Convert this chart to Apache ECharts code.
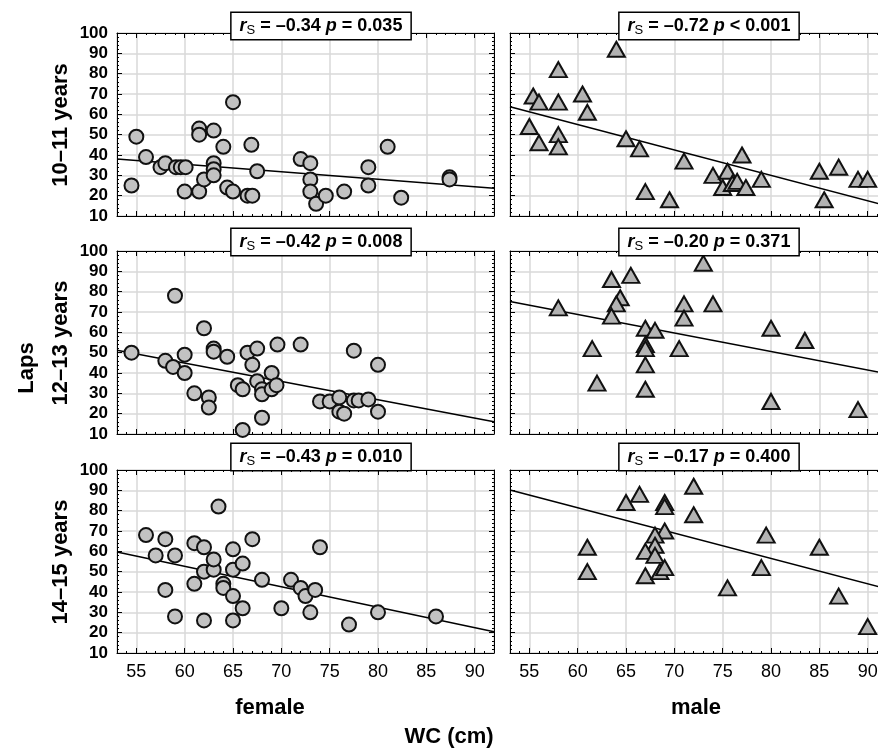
<!DOCTYPE html>
<html>
<head>
<meta charset="utf-8">
<script src="https://cdn.jsdelivr.net/npm/echarts@6/dist/echarts.min.js"></script>
<style>
html, body { margin: 0; padding: 0; background: #fff; }
#main { width: 878px; height: 751px; }
</style>
</head>
<body>
<div id="main"></div>
<script>
// laps vs waist circumference, by age group (rows) and sex (columns)
var rowLabels = ['10–11 years', '12–13 years', '14–15 years'];
var colLabels = ['female', 'male'];

// female points [WC, laps]
var female1011 = [[54.5, 25], [55, 49], [56, 39], [57.5, 34], [58, 36], [59.1, 34], [59.6, 34], [60.1, 34], [60, 22],
    [61.5, 53], [61.5, 50], [61.5, 22], [62, 28], [63, 52], [63, 36], [63, 33], [63, 30], [64, 44], [64.4, 24], [65, 66],
    [65, 22], [66.5, 20], [67, 20], [66.9, 45], [67.5, 32], [72, 38], [73, 36], [73, 28], [73, 22], [73.6, 16],
    [74.6, 20], [76.5, 22], [79, 34], [79, 25], [81, 44], [82.4, 19], [87.4, 29], [87.4, 28]];
var female1213 = [[54.5, 50], [59, 78], [58, 46], [58.8, 43], [60, 49], [60, 40], [61, 30], [62, 62], [62.5, 28],
    [62.5, 23], [63, 52], [63, 50.5], [64.4, 48], [65.5, 34], [66, 32], [66, 12], [66.5, 50], [67, 44], [67.5, 52],
    [67.5, 36], [68, 32], [68, 29.5], [68, 18], [69, 40], [69, 32], [69.5, 34], [69.6, 54], [72, 54], [74, 26],
    [75, 26], [76, 28], [76, 21], [76.5, 20], [77.5, 26.5], [78, 26.5], [79, 27], [77.5, 51], [80, 44], [80, 21]];
var female1415 = [[56, 68], [57, 58], [58, 66], [58, 41], [59, 58], [59, 28], [61, 64], [61, 44], [62, 62], [62, 50],
    [62, 26], [63, 51], [63, 56], [63.5, 82], [64, 44], [64, 42], [65, 61], [65, 51], [65, 38], [65, 26], [66, 54],
    [66, 32], [67, 66], [68, 46], [70, 32], [71, 46], [72, 42], [72.5, 38], [73, 30], [73.5, 41], [74, 62], [77, 24],
    [80, 30], [86, 28]];

// male points [WC, laps]
var male1011 = [[64, 92], [58, 82], [55.4, 69], [56, 66], [58, 66], [60.5, 70], [61, 61], [55, 54], [58, 50], [56, 46],
    [58, 44], [65, 48], [66.4, 43], [67, 22], [69.5, 18], [71, 37], [74, 30], [75, 24], [75.5, 32], [76, 26],
    [76.5, 27], [77, 40], [77.4, 24], [79, 28], [85, 32], [85.5, 18], [87, 34], [89, 28], [90, 28]];
var male1213 = [[58, 72], [73, 94], [63.5, 86], [65.5, 88], [64.4, 77], [64, 74], [63.5, 68], [61.5, 52], [62, 35],
    [67, 62], [68, 61], [67, 54], [67, 52], [67, 44], [67, 32], [70.5, 52], [71, 74], [71, 67], [74, 74], [80, 62],
    [80, 26], [83.5, 56], [89, 22]];
var male1415 = [[61, 62], [61, 50], [65, 84], [66.4, 88], [69, 84], [69, 82], [72, 92], [72, 78], [69, 70], [68, 68],
    [68, 63], [67, 60], [68, 58], [67, 48], [68.5, 50], [69, 52], [75.5, 42], [79, 52], [79.5, 68], [85, 62],
    [87, 38], [90, 23]];

// fitted lines, read at the panel edges
var fitF1011 = [[53, 38], [92, 23.6]];
var fitF1213 = [[53, 51.2], [92, 16]];
var fitF1415 = [[53, 59.7], [92, 20.4]];
var fitM1011 = [[53, 63.7], [92, 15]];
var fitM1213 = [[53, 75.2], [92, 39.6]];
var fitM1415 = [[53, 90.2], [92, 41.5]];

// Spearman results
var rsValues = [['–0.34', '–0.72'], ['–0.42', '–0.20'], ['–0.43', '–0.17']];
var pValues = [['= 0.035', '< 0.001'], ['= 0.008', '= 0.371'], ['= 0.010', '= 0.400']];

var points = [[female1011, male1011], [female1213, male1213], [female1415, male1415]];
var fits = [[fitF1011, fitM1011], [fitF1213, fitM1213], [fitF1415, fitM1415]];

var rowTops = [33, 251, 470];
var colLefts = [117, 510];
var boxCenterX = [321, 709];
var boxCenterY = [26, 242, 457];

var myChart = echarts.init(document.getElementById('main'));

var grids = [], xAxes = [], yAxes = [], series = [], graphics = [];
var narrow = '"Liberation Sans Narrow", "Liberation Sans", Arial, sans-serif';
var sans = '"Liberation Sans", Arial, sans-serif';

for (var r = 0; r < 3; r++) {
    for (var c = 0; c < 2; c++) {
        var g = r * 2 + c;
        // the right column runs past the canvas edge, as in the original
        grids.push({left: colLefts[c], top: rowTops[r], width: 377, height: 183, show: false, outerBoundsMode: 'none', containLabel: false});

        // bottom and top x axes
        xAxes.push({
            type: 'value', gridIndex: g, position: 'bottom', min: 53, max: 92, splitNumber: 8,
            axisLine: {show: true, onZero: false, lineStyle: {color: '#000', width: 1}},
            axisTick: {show: true, inside: true, length: 5, lineStyle: {color: '#000'}},
            minorTick: {show: true, splitNumber: 5, length: 2, lineStyle: {color: '#000'}},
            splitLine: {show: true, lineStyle: {color: '#d9d9d9', width: 1.5}},
            axisLabel: {
                show: r === 2, margin: 10, color: '#000', fontSize: 18, fontFamily: narrow,
                formatter: function (v) { return v % 5 === 0 ? v : ''; }
            }
        });
        xAxes.push({
            type: 'value', gridIndex: g, position: 'top', min: 53, max: 92, splitNumber: 8,
            axisLine: {show: true, onZero: false, lineStyle: {color: '#000', width: 1}},
            axisTick: {show: true, inside: true, length: 5, lineStyle: {color: '#000'}},
            minorTick: {show: true, splitNumber: 5, length: 2, lineStyle: {color: '#000'}},
            splitLine: {show: false}, axisLabel: {show: false}
        });

        // left and right y axes
        yAxes.push({
            type: 'value', gridIndex: g, position: 'left', min: 10, max: 100, interval: 10,
            axisLine: {show: true, onZero: false, lineStyle: {color: '#000', width: 1}},
            axisTick: {show: true, inside: true, length: 5, lineStyle: {color: '#000'}},
            minorTick: {show: true, splitNumber: 5, length: 2, lineStyle: {color: '#000'}},
            splitLine: {show: true, lineStyle: {color: '#d9d9d9', width: 1.5}},
            axisLabel: {show: c === 0, margin: 9, color: '#000', fontSize: 17, fontWeight: 'bold', fontFamily: sans}
        });
        yAxes.push({
            type: 'value', gridIndex: g, position: 'right', min: 10, max: 100, interval: 10,
            axisLine: {show: true, onZero: false, lineStyle: {color: '#000', width: 1}},
            axisTick: {show: true, inside: true, length: 5, lineStyle: {color: '#000'}},
            minorTick: {show: true, splitNumber: 5, length: 2, lineStyle: {color: '#000'}},
            splitLine: {show: false}, axisLabel: {show: false}
        });

        // fitted line
        series.push({
            type: 'line', xAxisIndex: g * 2, yAxisIndex: g * 2, data: fits[r][c],
            symbol: 'none', silent: true, z: 2,
            lineStyle: {color: '#000', width: 1.5}
        });
        // points: circles for female, triangles for male
        series.push({
            type: 'scatter', xAxisIndex: g * 2, yAxisIndex: g * 2, data: points[r][c], z: 3,
            symbol: c === 0 ? 'circle' : 'triangle',
            symbolSize: c === 0 ? 14 : [17, 15],
            itemStyle: {color: c === 0 ? '#c2c2c2' : '#b3b3b3', borderColor: '#111', borderWidth: 2, opacity: 1}
        });

        // statistics box
        graphics.push({
            type: 'text', x: boxCenterX[c], y: boxCenterY[r], z: 100,
            style: {
                text: '{i|r}{s|S}{b| = ' + rsValues[r][c] + ' }{i|p}{b| ' + pValues[r][c] + '}',
                align: 'center', verticalAlign: 'middle',
                backgroundColor: '#fff', borderColor: '#000', borderWidth: 1.5, padding: [2, 8, 2, 8],
                rich: {
                    i: {fontSize: 18, fontWeight: 'bold', fontStyle: 'italic', fontFamily: sans, lineHeight: 22, fill: '#000'},
                    s: {fontSize: 13, fontFamily: sans, lineHeight: 13, verticalAlign: 'bottom', fill: '#000'},
                    b: {fontSize: 18, fontWeight: 'bold', fontFamily: sans, lineHeight: 22, fill: '#000'}
                }
            }
        });
    }
    // row label
    graphics.push({
        type: 'text', x: 61, y: rowTops[r] + 92, rotation: Math.PI / 2,
        style: {text: rowLabels[r], align: 'center', verticalAlign: 'middle', fontSize: 22, fontWeight: 'bold', fontFamily: sans, fill: '#000'}
    });
}

// shared titles
graphics.push({
    type: 'text', x: 27, y: 368, rotation: Math.PI / 2,
    style: {text: 'Laps', align: 'center', verticalAlign: 'middle', fontSize: 22, fontWeight: 'bold', fontFamily: sans, fill: '#000'}
});
graphics.push({
    type: 'text', x: 270, y: 708,
    style: {text: colLabels[0], align: 'center', verticalAlign: 'middle', fontSize: 22, fontWeight: 'bold', fontFamily: sans, fill: '#000'}
});
graphics.push({
    type: 'text', x: 696, y: 708,
    style: {text: colLabels[1], align: 'center', verticalAlign: 'middle', fontSize: 22, fontWeight: 'bold', fontFamily: sans, fill: '#000'}
});
graphics.push({
    type: 'text', x: 449, y: 737,
    style: {text: 'WC (cm)', align: 'center', verticalAlign: 'middle', fontSize: 22, fontWeight: 'bold', fontFamily: sans, fill: '#000'}
});

var option = {
    animation: false,
    backgroundColor: '#fff',
    grid: grids,
    xAxis: xAxes,
    yAxis: yAxes,
    series: series,
    graphic: graphics
};
myChart.setOption(option);
</script>
</body>
</html>
